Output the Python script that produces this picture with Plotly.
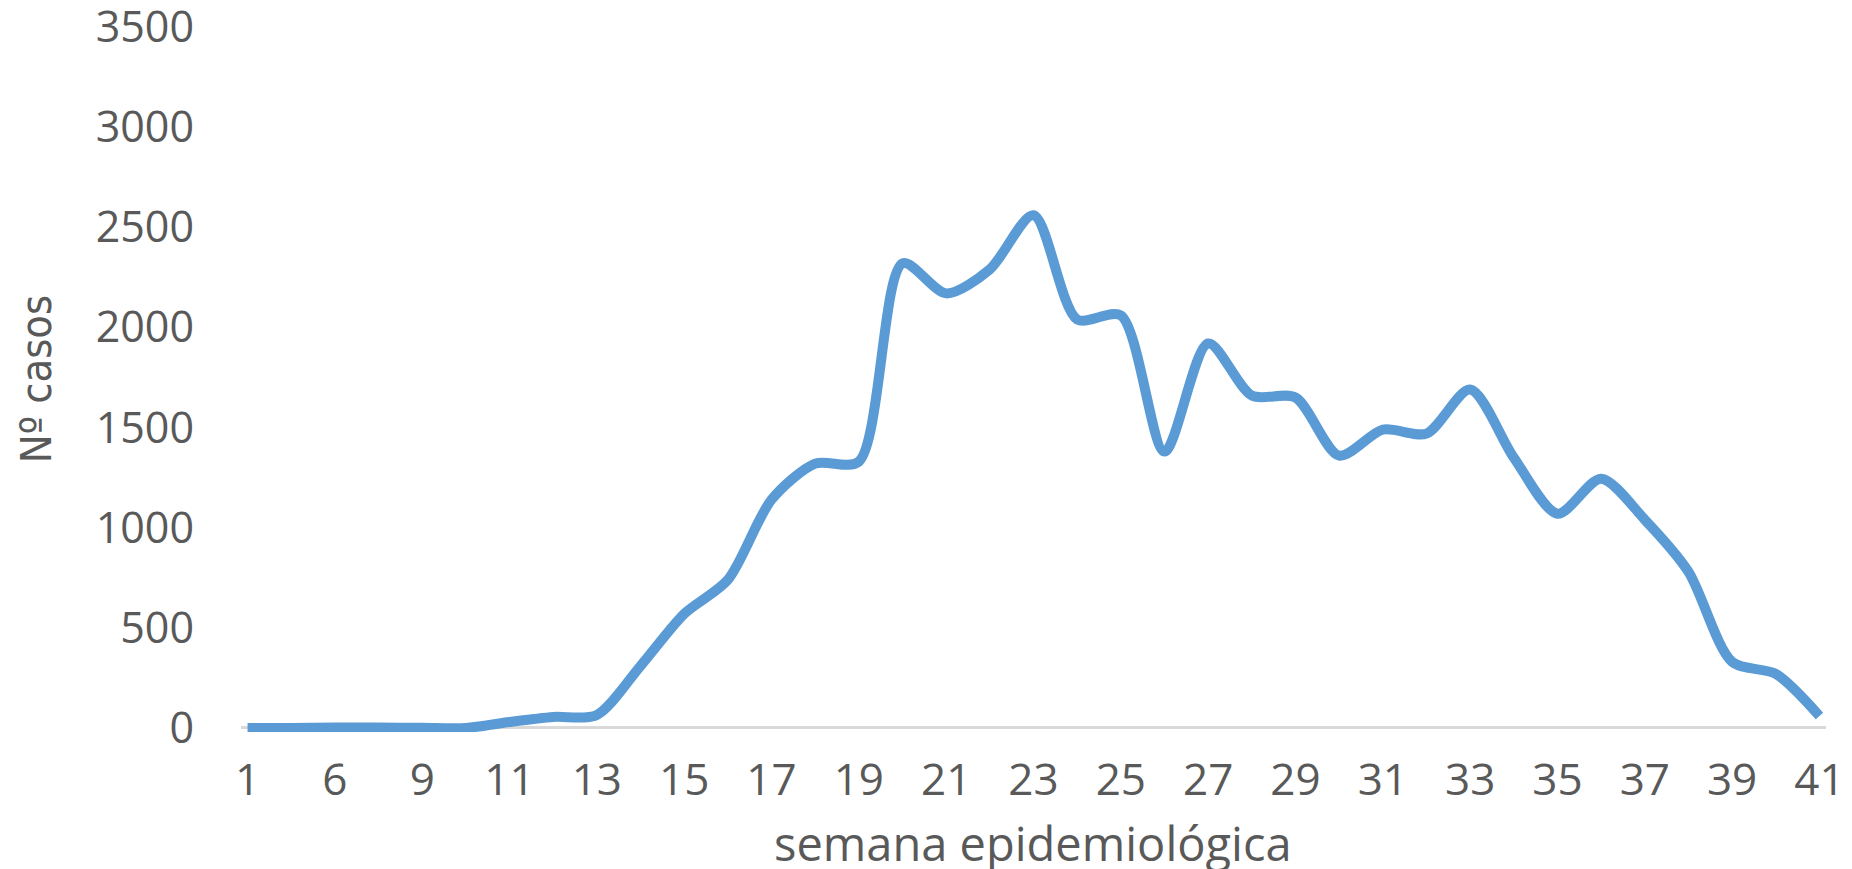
import plotly.graph_objects as go

# Epidemiological weeks (category axis, Excel-style every-other label)
weeks = ["1", "5", "6", "8", "9", "10", "11", "12", "13", "14", "15", "16", "17", "18",
         "19", "20", "21", "22", "23", "24", "25", "26", "27", "28", "29", "30", "31",
         "32", "33", "34", "35", "36", "37", "38", "39", "40", "41"]
cases = [0, 0, 2, 2, 1, 0, 30, 55, 65, 310, 570, 740, 1140, 1320,
         1330, 2320, 2170, 2290, 2560, 2040, 2060, 1380, 1920, 1660, 1650, 1360, 1490,
         1470, 1690, 1350, 1070, 1245, 1040, 780, 330, 270, 60]
tick_weeks = weeks[::2]
y_ticks = [0, 500, 1000, 1500, 2000, 2500, 3000, 3500]

W, H = 1852, 869
OFF = 8  # page body offset
# desired plot box in page pixels
PL, PR, PT, PB = 241, 1826.5, 27, 731.6
ML, MR, MT = PL - OFF, W - (PR - OFF), PT - OFF
MB = H - (PB - OFF)
PW, PH = W - ML - MR, H - MT - MB

def px(xp):
    return (xp - OFF - ML) / PW

def py(yp):
    return (H - MB - (yp - OFF)) / PH

fig = go.Figure()
fig.add_trace(go.Scatter(
    x=weeks, y=cases, mode="lines",
    line=dict(color="#5B9BD5", width=10, shape="spline", smoothing=0.8),
    hoverinfo="x+y", showlegend=False,
))

text_col = "#595959"
fig.update_layout(
    width=W, height=H,
    margin=dict(l=ML, r=MR, t=MT, b=MB),
    paper_bgcolor="white", plot_bgcolor="white",
    xaxis=dict(
        type="category", categoryorder="array", categoryarray=weeks,
        range=[-0.15, len(weeks) - 1 + 0.15],
        tickmode="array", tickvals=tick_weeks, ticktext=tick_weeks,
        showgrid=False, showline=False, zeroline=False, ticks="",
        tickfont=dict(family="Open Sans", size=44, color=text_col),
        ticklabelstandoff=18, automargin=False, ticklabeloverflow="allow",
    ),
    yaxis=dict(
        range=[-20, 3500], tickmode="array", tickvals=y_ticks,
        showgrid=False, showline=False, ticks="",
        zeroline=True, zerolinecolor="#D9D9D9", zerolinewidth=3,
        tickfont=dict(family="Open Sans", size=43, color=text_col),
        ticklabelstandoff=46, automargin=False, ticklabeloverflow="allow",
    ),
    annotations=[
        dict(text="Nº casos", xref="paper", yref="paper",
             x=px(36), y=py(379),
             xanchor="center", yanchor="middle", textangle=-90, showarrow=False,
             font=dict(family="DejaVu Sans Condensed, Roboto Condensed, Open Sans",
                       size=43, color=text_col)),
        dict(text="semana epidemiológica", xref="paper", yref="paper",
             x=px(1033), y=py(843),
             xanchor="center", yanchor="middle", showarrow=False,
             font=dict(family="Open Sans", size=47, color=text_col)),
    ],
)

fig.write_html("out.html")
